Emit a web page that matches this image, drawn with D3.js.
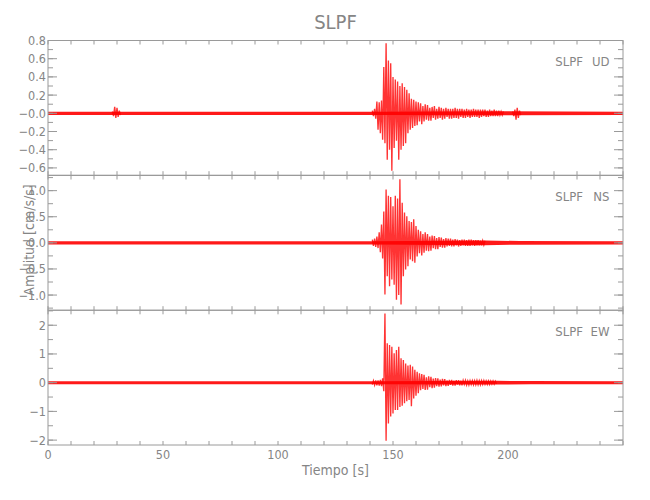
<!DOCTYPE html>
<html><head><meta charset="utf-8">
<script src="https://cdn.jsdelivr.net/npm/d3@7"></script>
<style>
body{margin:0;background:#fff}
text{font-family:"Liberation Sans Narrow","Arial Narrow","DejaVu Sans Condensed",sans-serif;fill:#858585}
</style>
</head><body>
<svg id="c" width="650" height="500"></svg>
<script>
// ---------- data ----------
const title = "SLPF";
const xLabel = "Tiempo [s]";
const yLabel = "Amplitud [cm/s/s]";
const station = "SLPF";
const components = ["UD", "NS", "EW"];

const xDomain = [0, 250];
const xMajorTicks = [0, 50, 100, 150, 200];
const xTickLabels = ["0", "50", "100", "150", "200"];
const xMinorStep = 10;

const udDomain = [-0.68, 0.8];
const udTicks = [-0.6, -0.4, -0.2, 0, 0.2, 0.4, 0.6, 0.8];
const udTickLabels = ["\u22120.6", "\u22120.4", "\u22120.2", "\u22120.0", "0.2", "0.4", "0.6", "0.8"];
const udMinorStep = 0.1;

const nsDomain = [-1.29, 1.29];
const nsTicks = [-1, -0.5, 0, 0.5, 1];
const nsTickLabels = ["\u22121.0", "\u22120.5", "0.0", "0.5", "1.0"];
const nsMinorStep = 0.25;

const ewDomain = [-2.17, 2.52];
const ewTicks = [-2, -1, 0, 1, 2];
const ewTickLabels = ["\u22122", "\u22121", "0", "1", "2"];
const ewMinorStep = 0.5;

// background noise band: half-width of the trace at knot times
const udNoiseT   = [0, 141, 198, 250];
const udNoiseAmp = [0.018, 0.018, 0.022, 0.018];
const nsNoiseT   = [0, 141, 190, 205, 250];
const nsNoiseAmp = [0.032, 0.032, 0.045, 0.035, 0.032];
const ewNoiseT   = [0, 141, 195, 210, 250];
const ewNoiseAmp = [0.052, 0.052, 0.065, 0.055, 0.052];

// signed peak samples, every 0.5 s, in segments starting at the given times
const sampleStep = 0.5;
const udSegStarts = [28, 141, 202];
const udSeg1 = [0.02,-0.03,0.07,-0.05,0.06,-0.04,0.03,-0.02];
const udSeg2 = [
 0.03,-0.03,0.05,-0.06,0.13,-0.18,0.12,-0.22,0.14,-0.29,
 0.51,-0.33,0.77,-0.51,0.58,-0.40,0.55,-0.63,0.40,-0.38,
 0.37,-0.30,0.35,-0.51,0.30,-0.40,0.33,-0.36,0.29,-0.33,
 0.26,-0.22,0.22,-0.18,0.16,-0.16,0.15,-0.14,0.13,-0.13,
 0.12,-0.09,0.11,-0.12,0.08,-0.09,0.10,-0.07,0.09,-0.08,
 0.06,-0.08,0.07,-0.05,0.08,-0.07,0.05,-0.06,0.07,-0.05,
 0.06,-0.07,0.05,-0.06,0.06,-0.04,0.05,-0.06,0.05,
 -0.06,0.05,-0.05,0.06,-0.05,0.05,-0.06,0.05,-0.04,0.05,
 -0.05,0.04,-0.05,0.05,-0.04,0.04,-0.05,0.04,-0.04,0.05,
 -0.04,0.04,-0.04,0.04,-0.05,0.04,-0.04,0.04,-0.03,0.04,
 -0.04,0.03,-0.04,0.04,-0.03,0.03,-0.03,0.04,-0.03,0.03,
 -0.03,0.03,-0.02,0.02,-0.02,0.02];
const udSeg3 = [0.02,-0.03,0.04,-0.07,0.06,-0.05,0.03,-0.02];

const nsSegStarts = [141];
const nsSeg1 = [
 0.06,-0.06,0.08,-0.08,0.12,-0.10,0.20,-0.18,0.35,-0.30,
 0.60,-0.99,1.02,-0.64,0.90,-0.83,0.88,-0.70,0.70,-0.80,
 0.90,-1.09,0.85,-1.00,1.22,-1.18,0.77,-0.64,0.58,-0.51,
 0.51,-0.45,0.42,-0.32,0.40,-0.35,0.45,-0.38,0.32,-0.26,
 0.25,-0.20,0.22,-0.24,0.17,-0.19,0.20,-0.15,0.17,-0.16,
 0.12,-0.15,0.14,-0.10,0.13,-0.12,0.09,-0.12,0.11,-0.08,
 0.10,-0.09,0.07,-0.09,0.09,-0.07,0.08,-0.06,0.08,-0.07,
 0.06,-0.07,0.07,-0.05,0.06,-0.07,0.05,-0.06,0.06,-0.05,
 0.06,-0.06,0.05,-0.06,0.06,
 -0.06,0.06,-0.05,0.05,-0.06,0.05,-0.05,0.05,-0.05,0.04,
 -0.05,0.04,-0.04,0.04];

const ewSegStarts = [141];
const ewSeg1 = [
 -0.07,0.07,-0.08,0.08,-0.09,0.08,-0.10,0.10,-0.12,0.15,
 -0.30,2.41,-2.02,1.37,-1.42,1.31,-1.18,1.25,-1.07,1.02,
 -0.95,1.14,-0.95,1.25,-0.85,0.85,-0.80,0.79,-0.72,0.67,
 -0.65,0.60,-0.60,0.62,-0.82,0.56,-0.55,0.45,-0.45,0.38,
 -0.37,0.33,-0.26,0.30,-0.22,0.27,-0.25,0.19,-0.24,0.22,
 -0.16,0.20,-0.19,0.14,-0.17,0.16,-0.12,0.15,-0.14,0.11,
 -0.13,0.13,-0.09,0.12,-0.12,0.08,-0.11,0.10,-0.08,0.10,
 -0.10,0.07,-0.10,0.09,-0.07,0.09,-0.09,0.07,-0.09,0.08,
 -0.06,0.08,-0.08,0.06,-0.08,0.07,-0.06,0.07,-0.07,
 0.07,-0.07,0.08,-0.07,0.07,-0.07,0.07,-0.06,0.07,-0.06,
 0.06,-0.06,0.06,-0.06,0.06,-0.05,0.06,-0.05,0.05,-0.05];

// ---------- layout ----------
const left = 48, right = 623;
const panelTops = [40.5, 175.5, 310.3];
const panelH = 134.7;
const axisColor = "#9a9a9a";
const traceColor = "#ff0000";

const svg = d3.select("#c");
const x = d3.scaleLinear().domain(xDomain).range([left, right]);

const panels = [
  {comp: components[0], domain: udDomain, ticks: udTicks, labels: udTickLabels, minor: udMinorStep,
   nT: udNoiseT, nA: udNoiseAmp, starts: udSegStarts, segs: [udSeg1, udSeg2, udSeg3]},
  {comp: components[1], domain: nsDomain, ticks: nsTicks, labels: nsTickLabels, minor: nsMinorStep,
   nT: nsNoiseT, nA: nsNoiseAmp, starts: nsSegStarts, segs: [nsSeg1]},
  {comp: components[2], domain: ewDomain, ticks: ewTicks, labels: ewTickLabels, minor: ewMinorStep,
   nT: ewNoiseT, nA: ewNoiseAmp, starts: ewSegStarts, segs: [ewSeg1]}
];

svg.append("text").attr("x", (left + right) / 2).attr("y", 29.3)
  .attr("text-anchor", "middle").style("font-size", "20px").text(title);

panels.forEach((p, i) => {
  const top = panelTops[i], bot = top + panelH;
  const y = d3.scaleLinear().domain(p.domain).range([bot, top]);
  const g = svg.append("g");

  const clipId = "clip" + i;
  svg.append("clipPath").attr("id", clipId).append("rect")
    .attr("x", left).attr("y", top).attr("width", right - left).attr("height", panelH);

  const tr = g.append("g").attr("clip-path", `url(#${clipId})`);
  const noise = p.nT.map((t, k) => ({t: t, a: p.nA[k]}));
  tr.append("path").datum(noise)
    .attr("d", d3.area().x(d => x(d.t)).y0(d => y(-d.a)).y1(d => y(d.a)))
    .attr("fill", traceColor).attr("fill-opacity", 0.9);
  p.segs.forEach((seg, s) => {
    const pts = seg.map((v, k) => ({t: p.starts[s] + k * sampleStep, v: v}));
    tr.append("path").datum(pts)
      .attr("d", d3.line().x(d => x(d.t)).y(d => y(d.v)))
      .attr("fill", "none").attr("stroke", traceColor).attr("stroke-width", 1.35)
      .attr("stroke-opacity", 0.8);
  });

  // box
  g.append("rect").attr("x", left).attr("y", top).attr("width", right - left).attr("height", panelH)
    .attr("fill", "none").attr("stroke", axisColor).attr("stroke-width", 1);

  // x ticks (top & bottom, inward)
  const xt = d3.range(xDomain[0], xDomain[1] + 0.001, xMinorStep);
  xt.forEach(v => {
    g.append("line").attr("x1", x(v)).attr("x2", x(v)).attr("y1", top).attr("y2", top + 4)
      .attr("stroke", axisColor);
    g.append("line").attr("x1", x(v)).attr("x2", x(v)).attr("y1", bot).attr("y2", bot - 4)
      .attr("stroke", axisColor);
  });

  // y minor ticks
  const m0 = Math.ceil(p.domain[0] / p.minor - 1e-6), m1 = Math.floor(p.domain[1] / p.minor + 1e-6);
  for (let k = m0; k <= m1; k++) {
    const v = k * p.minor;
    g.append("line").attr("x1", left).attr("x2", left + 5).attr("y1", y(v)).attr("y2", y(v)).attr("stroke", axisColor);
    g.append("line").attr("x1", right).attr("x2", right - 5).attr("y1", y(v)).attr("y2", y(v)).attr("stroke", axisColor);
  }
  // y major ticks and labels
  p.ticks.forEach((v, k) => {
    g.append("line").attr("x1", left).attr("x2", left + 9).attr("y1", y(v)).attr("y2", y(v)).attr("stroke", axisColor);
    g.append("line").attr("x1", right).attr("x2", right - 9).attr("y1", y(v)).attr("y2", y(v)).attr("stroke", axisColor);
    g.append("text").attr("x", left - 2).attr("y", y(v)).attr("dy", "0.36em")
      .attr("text-anchor", "end").style("font-size", "12.5px").text(p.labels[k]);
  });

  // station / component label
  g.append("text").attr("x", 583).attr("y", top + 25.5).attr("text-anchor", "end")
    .style("font-size", "13px").text(station);
  g.append("text").attr("x", 609.5).attr("y", top + 25.5).attr("text-anchor", "end")
    .style("font-size", "13px").text(p.comp);

  if (i === panels.length - 1) {
    xMajorTicks.forEach((v, k) => {
      g.append("text").attr("x", x(v)).attr("y", 458.5).attr("text-anchor", "middle")
        .style("font-size", "12.5px").text(xTickLabels[k]);
    });
  }
});

svg.append("text").attr("x", (left + right) / 2).attr("y", 474.5)
  .attr("text-anchor", "middle").style("font-size", "14px").text(xLabel);
svg.append("text").attr("transform", "translate(34,240) rotate(-90)")
  .attr("text-anchor", "middle").style("font-size", "14px").text(yLabel);
</script>
</body></html>
